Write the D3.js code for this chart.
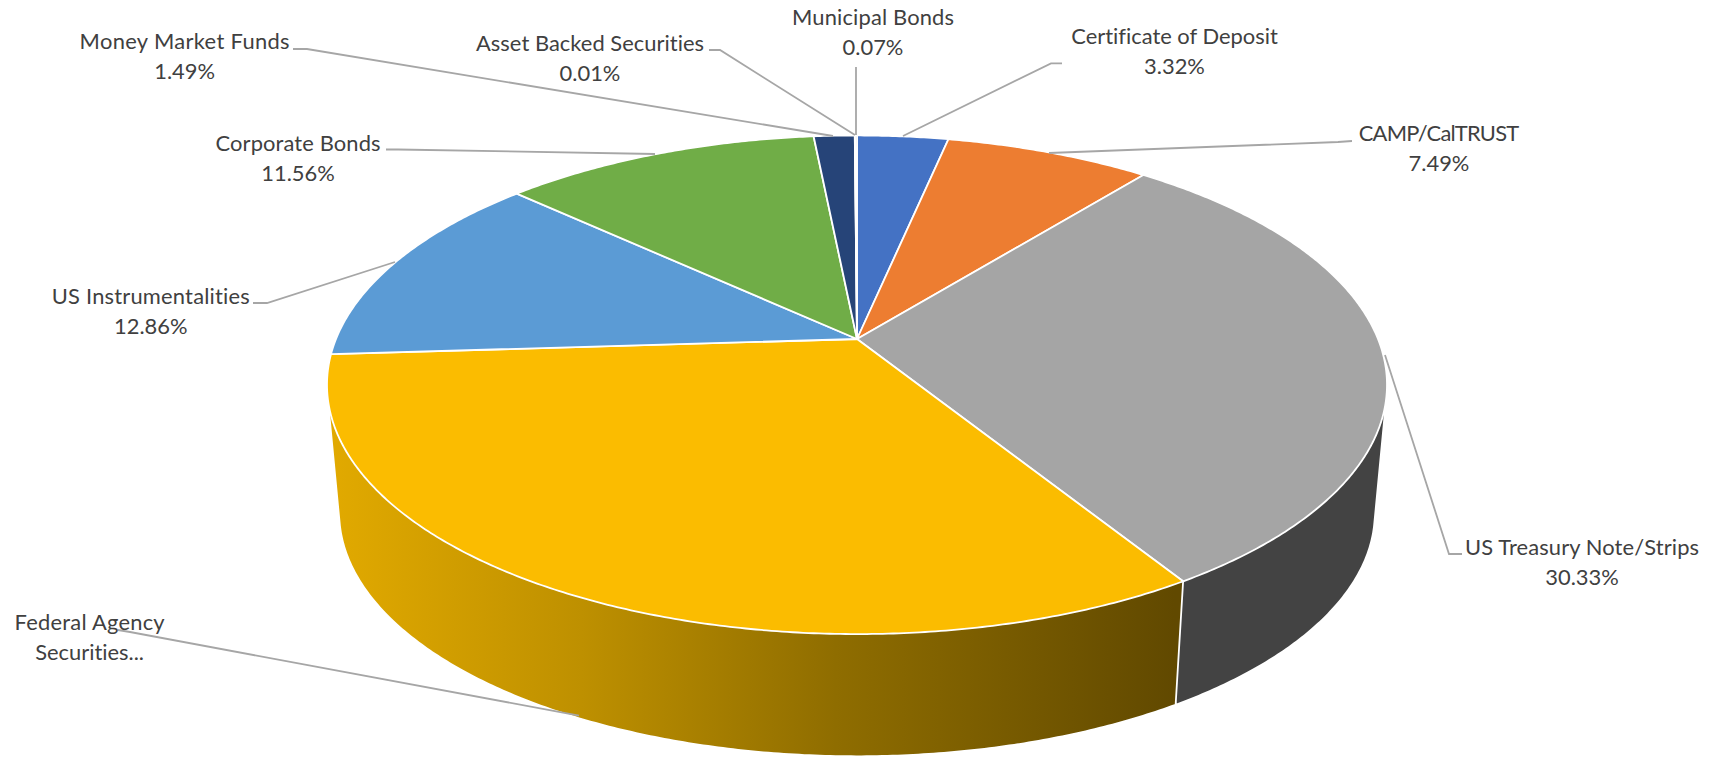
<!DOCTYPE html>
<html>
<head>
<meta charset="utf-8">
<script src="https://cdn.jsdelivr.net/npm/d3@7"></script>
<style>
    html, body { margin: 0; padding: 0; background: #fff; }
    svg { display: block; }
    .label { font-family: Lato, "Open Sans", sans-serif; font-size: 21.9px; fill: #404040; text-anchor: middle; font-variant-ligatures: none; }
</style>
</head>
<body>
<svg id="chart" width="1713" height="759"></svg>
<script>
const categories = ["Certificate of Deposit", "CAMP/CalTRUST", "US Treasury Note/Strips", "Federal Agency Securities...",
    "US Instrumentalities", "Corporate Bonds", "Money Market Funds", "Asset Backed Securities", "Municipal Bonds"];
// federal agency has no printed value, it is what is left of 100%
const shares = [3.32, 7.49, 30.33, 32.87, 12.86, 11.56, 1.49, 0.01, 0.07];
const shareLabels = ["3.32%", "7.49%", "30.33%", "", "12.86%", "11.56%", "1.49%", "0.01%", "0.07%"];
const topColors = ["#4472C4", "#ED7D31", "#A5A5A5", "#FBBC00", "#5B9BD5", "#70AD47", "#264478", "#9E480E", "#A5A5A5"];
const sideColors = [null, null, "#434343", "url(#fedSide)", null, null, null, null, null];

// where each label sits and the bend of its leader line, same order as categories
const labelX = [1174.5, 1439, 1582, 89.6, 150.8, 298, 184.6, 590, 873];
const labelY = [43.5, 141, 555, 630, 303.5, 151, 49, 51, 25];
const nameWidth = [206.5, 160.6, 234, 150, 198, 165, 210, 228, 162];
const leaderBend = [[1062, 63.4, 1051, 63.4], [1352, 141, 1338, 142], [1462, 554, 1449, 554], [118, 630, 130, 632],
    [253, 303, 267, 303], [386, 149.5, 398, 149.5], [293, 49, 307, 49], [709, 50, 720, 50], [856, 67, 856, 67]];
const leaderEnd = [[903, 136], [1049, 153], [1385, 355], [579, 715.6], [395, 262], [655, 154], [833, 136], [855, 135], [856, 135]];

const svg = d3.select("#chart");

// Office style perspective: the disc centre lands above the middle of the ellipse
const k = 0.1836;
const cx = 857;
const spreadX = d3.scaleLinear().domain([-1, 1]).range([cx - 521, cx + 521]);
const topY = d3.scaleLinear().domain([-1, 1]).range([339 - 240.9, 339 + 240.9]);
const bottomScale = 0.977;
const bottomY = d3.scaleLinear().domain([-1, 1]).range([468 - 240.9 * bottomScale, 468 + 240.9 * bottomScale]);

function rimTop(a) {
    const u = Math.sin(a), v = -Math.cos(a), w = 1 - k * v;
    return [spreadX(u / w), topY(v / w)];
}

function rimBottom(a) {
    const u = Math.sin(a), v = -Math.cos(a), w = 1 - k * v;
    return [cx + (spreadX(u / w) - cx) * bottomScale, bottomY(v / w)];
}

function arcPoints(fn, a0, a1) {
    const n = Math.max(2, Math.ceil((a1 - a0) * 120));
    return d3.range(n + 1).map(i => fn(a0 + (a1 - a0) * i / n));
}

const pie = d3.pie().sort(null).value(d => d)(shares);
const line = d3.line();

const grad = svg.append("defs").append("linearGradient")
    .attr("id", "fedSide")
    .attr("gradientUnits", "userSpaceOnUse")
    .attr("x1", 327).attr("x2", 1175).attr("y1", 0).attr("y2", 0);
[[0, "#E2AA00"], [0.3, "#BE9000"], [0.6, "#8F6D00"], [1, "#614900"]].forEach(s => {
    grad.append("stop").attr("offset", s[0]).attr("stop-color", s[1]);
});

// side wall first, only the two front slices show one. hull so the silhouette is tangent
svg.append("g").selectAll("path")
    .data(pie.filter((d, i) => sideColors[i]))
    .join("path")
    .attr("d", d => {
        const upper = arcPoints(rimTop, d.startAngle, d.endAngle);
        const lower = arcPoints(rimBottom, d.startAngle, d.endAngle);
        return line(d3.polygonHull(upper.concat(lower))) + "Z";
    })
    .attr("fill", d => sideColors[d.index])
    .attr("stroke", "#fff")
    .attr("stroke-width", 1.8)
    .attr("stroke-linejoin", "round");

const apex = [cx, topY(0)];
svg.append("g").selectAll("path")
    .data(pie)
    .join("path")
    .attr("d", d => line([apex].concat(arcPoints(rimTop, d.startAngle, d.endAngle))) + "Z")
    .attr("fill", (d, i) => topColors[i])
    .attr("stroke", "#fff")
    .attr("stroke-width", 1.8)
    .attr("stroke-linejoin", "round");

// leader lines
svg.append("g").selectAll("path")
    .data(categories)
    .join("path")
    .attr("d", (d, i) => {
        const b = leaderBend[i];
        return line([[b[0], b[1]], [b[2], b[3]], leaderEnd[i]]);
    })
    .attr("fill", "none")
    .attr("stroke", "#A6A6A6")
    .attr("stroke-width", 1.8);

// labels, two lines each
const labels = svg.append("g").selectAll("text")
    .data(categories)
    .join("text")
    .attr("class", "label")
    .attr("x", (d, i) => labelX[i])
    .attr("y", (d, i) => labelY[i]);

labels.append("tspan")
    .attr("textLength", (d, i) => nameWidth[i])
    .text((d, i) => i === 3 ? "Federal Agency" : d);
labels.append("tspan")
    .attr("x", (d, i) => labelX[i])
    .attr("dy", 30)
    .text((d, i) => i === 3 ? "Securities..." : shareLabels[i]);
</script>
</body>
</html>
